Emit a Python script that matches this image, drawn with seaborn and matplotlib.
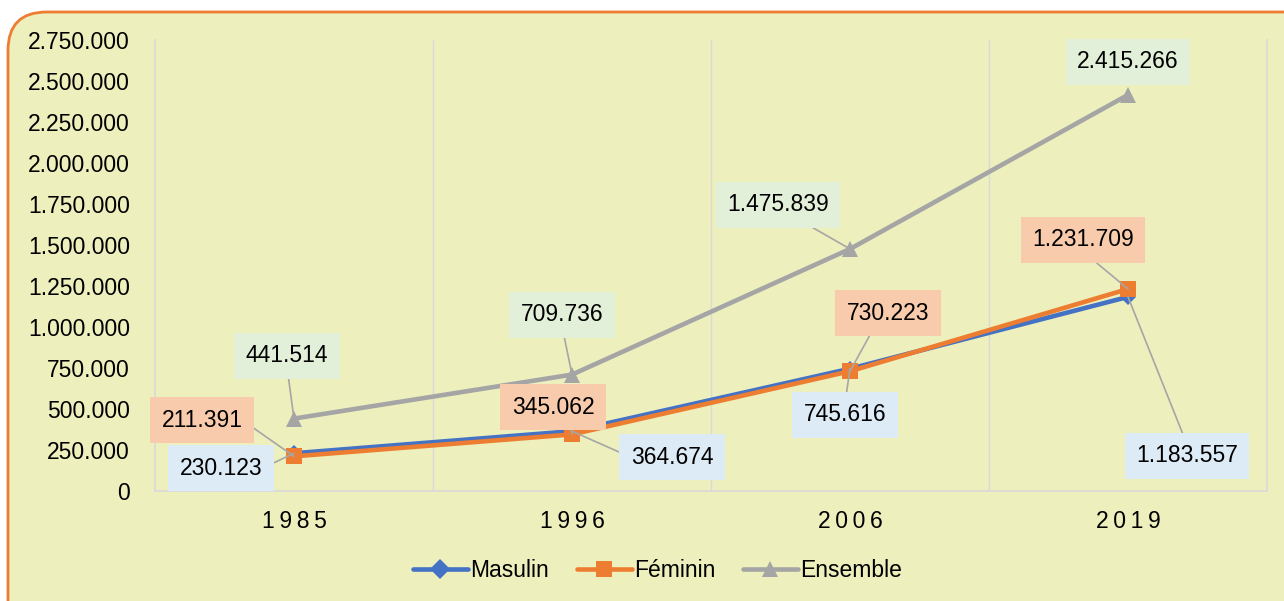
import pandas as pd
import matplotlib.pyplot as plt
import seaborn as sns
from matplotlib.patches import FancyBboxPatch

# data
years = ["1985", "1996", "2006", "2019"]
masculin = [230123, 364674, 745616, 1183557]
feminin = [211391, 345062, 730223, 1231709]
ensemble = [441514, 709736, 1475839, 2415266]
series_names = ["Masulin", "Féminin", "Ensemble"]

colors = {"Masulin": "#4472C4", "Féminin": "#ED7D31", "Ensemble": "#A5A5A5"}
box_colors = {"Masulin": "#DDEBF7", "Féminin": "#F8CBAD", "Ensemble": "#E2EFD9"}
# label offsets in pixels from each point and where the leader line leaves the box
offsets = {
    "Masulin": [(-73, -15), (100, -26), (-5, -46), (59, -159)],
    "Féminin": [(-92, 36), (-19, 27), (38, 58), (-45, 49)],
    "Ensemble": [(-7, 63), (-10, 60), (-72, 44), (0, 33)],
}
leader_from = {
    "Masulin": [(1, 0.5), (0, 0.5), (0.5, 1), (0.5, 1)],
    "Féminin": [(1, 0.5), (0.7, 0), (0.35, 0), (0.5, 0)],
    "Ensemble": [(0.5, 0), (0.5, 0), (0.65, 0), None],
}

df = pd.DataFrame({
    "year": years * 3,
    "value": masculin + feminin + ensemble,
    "serie": [s for s in series_names for _ in years],
})

sns.set_theme(style="white")
plt.rcParams["font.family"] = ["Liberation Sans", "DejaVu Sans"]
plt.rcParams["font.size"] = 16.5
plt.rcParams["text.color"] = "#000000"

fig = plt.figure(figsize=(12.84, 6.01), dpi=100)
fig.patch.set_facecolor("white")
# rounded panel behind the chart
panel = FancyBboxPatch((8 / 1284, -0.1), 1.1, 1 - 12 / 601 + 0.1,
                       boxstyle="round,pad=0,rounding_size=0.03",
                       transform=fig.transFigure, facecolor="#EDEFBD",
                       edgecolor="#ED7D31", linewidth=2, zorder=-5,
                       mutation_aspect=1284 / 601)
fig.patches.append(panel)

ax = fig.add_axes([155 / 1284, 1 - 491 / 601, 1112 / 1284, 451 / 601])
ax.set_facecolor("none")

sns.lineplot(data=df, x="year", y="value", hue="serie", style="serie",
             hue_order=series_names, style_order=series_names,
             palette=colors, markers={"Masulin": "D", "Féminin": "s", "Ensemble": "^"},
             dashes=False, linewidth=3.3, markeredgewidth=0, ax=ax)

msize = {"Masulin": 8, "Féminin": 12, "Ensemble": 12}
for i, s in enumerate(series_names):
    ax.lines[i].set_markersize(msize[s])

ax.set_xlim(-0.5, 3.5)
ax.set_ylim(0, 2750000)
yt = list(range(0, 2750001, 250000))
ax.set_yticks(yt)
ax.set_yticklabels([f"{v:,}".replace(",", ".") for v in yt])
ax.set_xticks(range(len(years)))
ax.set_xticklabels(["\u2009".join(y) for y in years])
ax.tick_params(axis="y", length=0, pad=18, labelsize=16.5, colors="#000000")
ax.tick_params(axis="x", length=0, pad=14, labelsize=16.5, colors="#000000")
ax.set_xlabel("")
ax.set_ylabel("")

for xb in [0.5, 1.5, 2.5]:
    ax.axvline(xb, color="#D9D9D9", lw=1, zorder=0)
for side in ["left", "right", "bottom"]:
    ax.spines[side].set_color("#D9D9D9")
    ax.spines[side].set_linewidth(1.2)
ax.spines["top"].set_visible(False)

values = {"Masulin": masculin, "Féminin": feminin, "Ensemble": ensemble}
for s in series_names:
    for i, v in enumerate(values[s]):
        dx, dy = offsets[s][i]
        rp = leader_from[s][i]
        arrow = None if rp is None else dict(
            arrowstyle="-", color="#A6A6A6", lw=1.2, shrinkA=0, shrinkB=0, relpos=rp)
        ax.annotate(f"{v:,}".replace(",", "."), xy=(i, v), xytext=(dx, dy),
                    textcoords="offset pixels", ha="center", va="center",
                    fontsize=16.5, color="#000000",
                    bbox=dict(boxstyle="square,pad=0.5", fc=box_colors[s], ec="none"),
                    arrowprops=arrow, annotation_clip=False, zorder=5)

handles, labels = ax.get_legend_handles_labels()
ax.get_legend().remove()
leg_size = {"Masulin": 10, "Féminin": 11, "Ensemble": 11}
for h, lab in zip(handles, labels):
    h.set_markersize(leg_size.get(lab, 10))
fig.legend(handles, labels, loc="center", bbox_to_anchor=(0.512, 0.05), ncol=3,
           frameon=False, fontsize=16.5, handlelength=2.4, handletextpad=0.1,
           columnspacing=1.2)

fig.savefig("out.png", dpi=100)
